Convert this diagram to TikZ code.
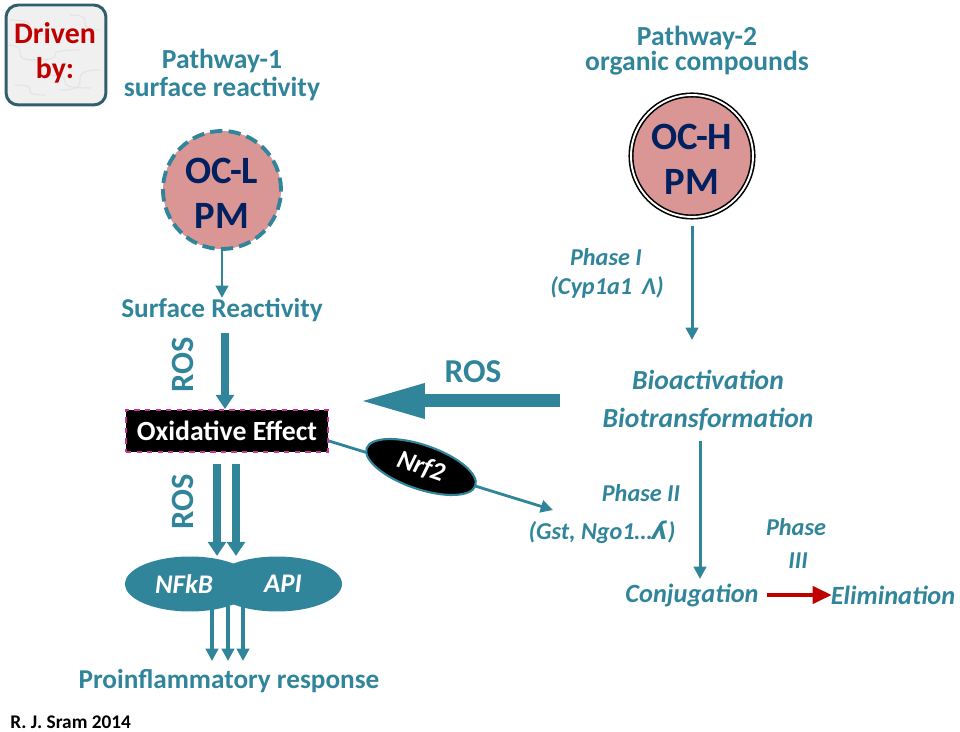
\documentclass[tikz,border=0pt]{standalone}
\usepackage{fontspec}
\setmainfont{Carlito}
\newfontfamily\ipafont{DejaVu Sans}
\usetikzlibrary{arrows.meta,shapes.geometric,calc}
\definecolor{teal1}{RGB}{49,133,155}
\definecolor{navy1}{RGB}{0,32,96}
\definecolor{pink1}{RGB}{217,150,148}
\definecolor{red1}{RGB}{192,0,0}
\definecolor{mag1}{RGB}{204,51,153}
\definecolor{boxedge}{RGB}{47,95,110}
\newcommand\myfs[2]{\fontsize{#1}{#2}\selectfont}
\begin{document}
\begin{tikzpicture}[x=0.02cm,y=-0.02cm,
  txt/.style={inner sep=0pt, text=teal1, font=\bfseries\myfs{15.5}{17}},
  itx/.style={inner sep=0pt, text=teal1, font=\bfseries\itshape\myfs{15}{17}},
  phx/.style={inner sep=0pt, text=teal1, font=\bfseries\itshape\myfs{13.8}{16}},
  rostxt/.style={inner sep=0pt, text=teal1, font=\bfseries\myfs{18.5}{20}},
  thinarrow/.style={draw=teal1, line width=1.7pt, -{Triangle[length=7pt,width=7pt]}},
  fatarrow/.style={draw=teal1, line width=4pt, -{Triangle[length=8pt,width=10pt]}},
  midarrow/.style={draw=teal1, line width=2.3pt, -{Triangle[length=7pt,width=7pt]}},
  pmtext/.style={inner sep=0pt, text=navy1, font=\bfseries\myfs{22}{25.5}, align=center},
  tfill/.style={ellipse, fill=teal1, inner sep=0pt, minimum width=2.6cm, minimum height=1.1cm},
  wtx/.style={inner sep=0pt, text=white, font=\bfseries\itshape\myfs{15.3}{17}}
]
\useasboundingbox (0,0) rectangle (960,732);

% Driven by box
\node[draw=boxedge, line width=1.7pt, rounded corners=7pt, fill=gray!12,
      minimum width=2cm, minimum height=2cm, inner sep=0pt] (drv) at (56,55) {};
\begin{scope}
\clip[rounded corners=6pt] (8,7) rectangle (104,103);
\foreach \a/\b/\c/\d in {10/20/50/35, 30/60/80/50, 60/90/100/70, 15/85/45/95, 70/15/100/30, 40/75/90/88, 5/45/35/60}{
  \draw[gray!22, line width=0.6pt] (\a,\b) .. controls (\c,\b) and (\a,\d) .. (\c,\d);
}
\end{scope}
\node[inner sep=0pt, text=red1, font=\bfseries\myfs{17}{20}, align=center] (drvt) at (55,53) {Driven\\by:};

% Pathway 1
\node[txt, align=center, font=\bfseries\myfs{15.7}{15.4}] (p1) at (222,75) {Pathway-1\\surface reactivity};
\node[circle, fill=pink1, draw=teal1, line width=2.2pt, dash pattern=on 7pt off 3.5pt,
      minimum size=2.36cm, inner sep=0pt] (ocl) at (222,190) {};
\node[pmtext] (oclt) at (222,193) {OC-L\\PM};
\node[txt] (sr) at (222,310) {Surface Reactivity};
\draw[thinarrow] (ocl.south) -- (sr.north);

\node[draw=mag1, dashed, line width=1.1pt, fill=black, minimum width=4.04cm, minimum height=0.84cm,
      inner sep=0pt, text=white, font=\bfseries\myfs{15.8}{17}] (ox) at (227,431) {Oxidative Effect};
\coordinate (r1s) at (225,333);
\draw[fatarrow] (r1s) -- (r1s |- ox.north);
\node[rostxt, rotate=90] (ros1) at (183,365) {ROS};

% NFkB / API
\node[tfill] (nf) at (190,584) {};
\node[tfill] (ap) at (277,584) {};
\node[wtx] (nft) at (184,584) {NFkB};
\node[wtx] (apt) at (283,584) {API};
\coordinate (d1) at (217,556);
\coordinate (d2) at (236,556);
\draw[fatarrow] (d1 |- ox.south) ++(0,11) -- (d1);
\draw[fatarrow] (d2 |- ox.south) ++(0,11) -- (d2);
\node[rostxt, rotate=90] (ros2) at (183,502) {ROS};

\node[txt, font=\bfseries\myfs{15.5}{18}] (pro) at (229,681) {Proinflammatory response};
\foreach \xx/\nm in {212/a,228/b,243/c}{
  \coordinate (t\nm) at (\xx,661);
  \draw[midarrow] (\xx,606) -- (t\nm);
}
\node[inner sep=0pt, anchor=west, text=black, font=\bfseries\myfs{11}{13}] (auth) at (10,722) {R. J. Sram 2014};

% Pathway 2
\node[txt, align=center, font=\bfseries\myfs{15.7}{14.2}] (p2) at (697,51) {Pathway-2\\organic compounds};
\node[circle, fill=pink1, draw=black, double=white, line width=0.9pt, double distance=1.1pt,
      minimum size=2.44cm, inner sep=0pt] (och) at (692,156) {};
\node[pmtext] (ocht) at (692,159) {OC-H\\PM};
\coordinate (ba) at (692,340);
\draw[thinarrow] (och.south) ++(0,8) -- (ba);
\node[phx] (ph1) at (606,257) {Phase I};
\node[phx] (cyp) at (607,287) {(Cyp1a1 \,Λ)};

\node[itx, font=\bfseries\itshape\myfs{15.7}{17}] (bio1) at (708,380) {Bioactivation};
\node[itx, font=\bfseries\itshape\myfs{15.7}{17}] (bio2) at (708,419) {Biotransformation};
\node[itx] (conj) at (692,595) {Conjugation};
\node[itx] (elim) at (893,595) {Elimination};
\coordinate (cj) at (700,579);
\draw[thinarrow] (cj |- bio2.south) ++(0,10) -- (cj);
\node[phx] (ph2) at (641,493) {Phase II};
\node[phx] (gst) at (602,532) {(Gst, Ngo1…{\ipafont\bfseries\itshape ʎ})};
\node[phx] (ph3) at (796,527) {Phase};
\node[phx] (ph3b) at (798,561) {III};
\coordinate (ra) at (767,595);
\coordinate (rb) at (832,595);
\draw[draw=red1, line width=2.8pt, -{Triangle[length=11pt,width=9.5pt]}] (ra) -- (rb);

% big ROS arrow
\coordinate (bs) at (560,401);
\coordinate (be) at (358,401);
\draw[draw=teal1, line width=7.4pt, -{Triangle[length=38pt,width=18pt]}] (bs) -- (be);
\node[rostxt, font=\bfseries\myfs{19}{20}] (ros3) at (473,372) {ROS};

% Nrf2
\coordinate (ns) at ($(ox.south east)+(0,-12)$);
\coordinate (ne) at (553,510);
\draw[thinarrow, line width=1.6pt] (ns) -- (ne);
\node[ellipse, fill=black, draw=teal1, line width=1.2pt, minimum width=2.3cm, minimum height=0.88cm,
      inner sep=0pt, rotate=-19, text=white, font=\bfseries\itshape\myfs{15}{16}] (nrf) at (421,467) {Nrf2};
\end{tikzpicture}
\end{document}
